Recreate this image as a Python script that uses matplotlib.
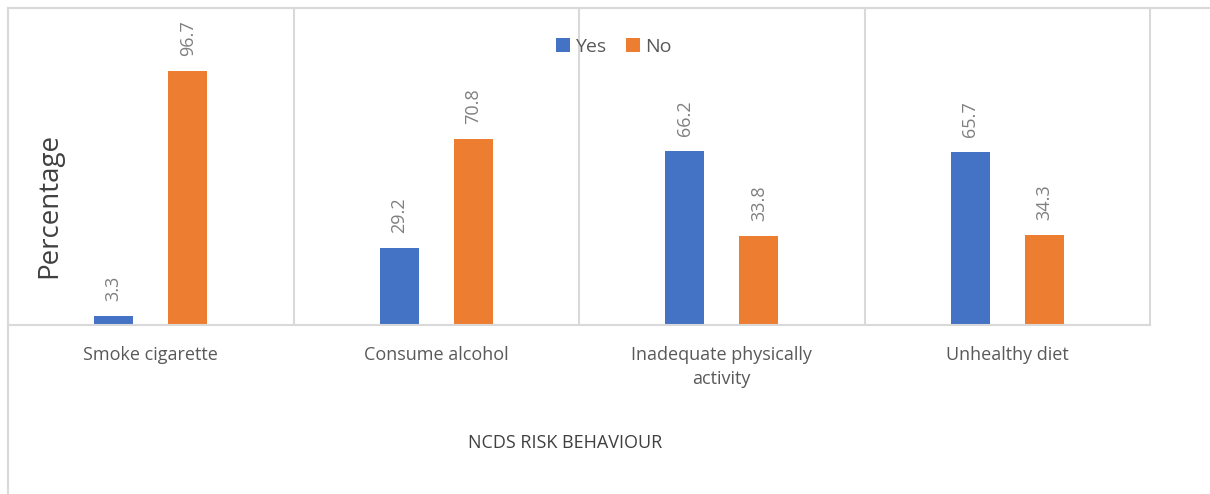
import numpy as np
import matplotlib.pyplot as plt
from matplotlib.lines import Line2D

categories = ["Smoke cigarette", "Consume alcohol",
              "Inadequate physically\nactivity", "Unhealthy diet"]
yes_vals = [3.3, 29.2, 66.2, 65.7]
no_vals = [96.7, 70.8, 33.8, 34.3]

plt.rcParams['font.family'] = ['Open Sans', 'DejaVu Sans']

blue = '#4472C4'
orange = '#ED7D31'
gridc = '#D9D9D9'
txt = '#595959'

fig = plt.figure(figsize=(12.1, 4.94), dpi=100)
ax = fig.add_axes([8/1210, 1 - 325/494, (1150 - 8)/1210, (325 - 8)/494])

x = np.arange(len(categories))
w = 0.137
off = 0.13
b1 = ax.bar(x - off, yes_vals, w, color=blue, label='Yes')
b2 = ax.bar(x + off, no_vals, w, color=orange, label='No')

for bars in (b1, b2):
    for rect in bars:
        h = rect.get_height()
        ax.annotate(f"{h:.1f}", (rect.get_x() + rect.get_width()/2, h),
                    xytext=(0, 11), textcoords='offset points',
                    ha='center', va='bottom', rotation=90,
                    fontsize=13, color='#7f7f7f')

ax.set_xlim(-0.5, len(categories) - 0.5)
ax.set_ylim(0, 120.7)
ax.set_yticks([])
ax.set_xticks(x)
ax.set_xticklabels(categories, fontsize=13, color=txt, linespacing=1.45)
ax.tick_params(axis='x', length=0, pad=15)
ax.set_xticks(np.arange(0.5, len(categories) - 0.5), minor=True)
ax.tick_params(axis='x', which='minor', length=0)
ax.grid(axis='x', which='minor', color=gridc, linewidth=1.5)
ax.set_axisbelow(True)
for s in ax.spines.values():
    s.set_color(gridc)
    s.set_linewidth(1.5)

ax.set_xlabel("NCDS RISK BEHAVIOUR", fontsize=13, color='#404040', labelpad=0)
ax.xaxis.set_label_coords(557/1142, -(434 - 325)/317)
ax.set_ylabel("Percentage", fontsize=20, color='#404040')
ax.yaxis.set_label_coords((63 - 8)/1142, (325 - 205)/317)

ax.legend(loc='center', bbox_to_anchor=(614/1142 - 8/1142, (325 - 47)/317),
          ncol=2, frameon=False, fontsize=14, labelcolor=txt,
          handlelength=0.7, handleheight=0.7, handletextpad=0.3,
          columnspacing=1.0, borderpad=0)

# outer chart border (top and left edges)
fig.add_artist(Line2D([8/1210, 1], [1 - 8/494, 1 - 8/494], color=gridc,
                      linewidth=1.5, transform=fig.transFigure))
fig.add_artist(Line2D([8/1210, 8/1210], [0, 1 - 8/494], color=gridc,
                      linewidth=1.5, transform=fig.transFigure))

fig.savefig("out.png", dpi=100)
